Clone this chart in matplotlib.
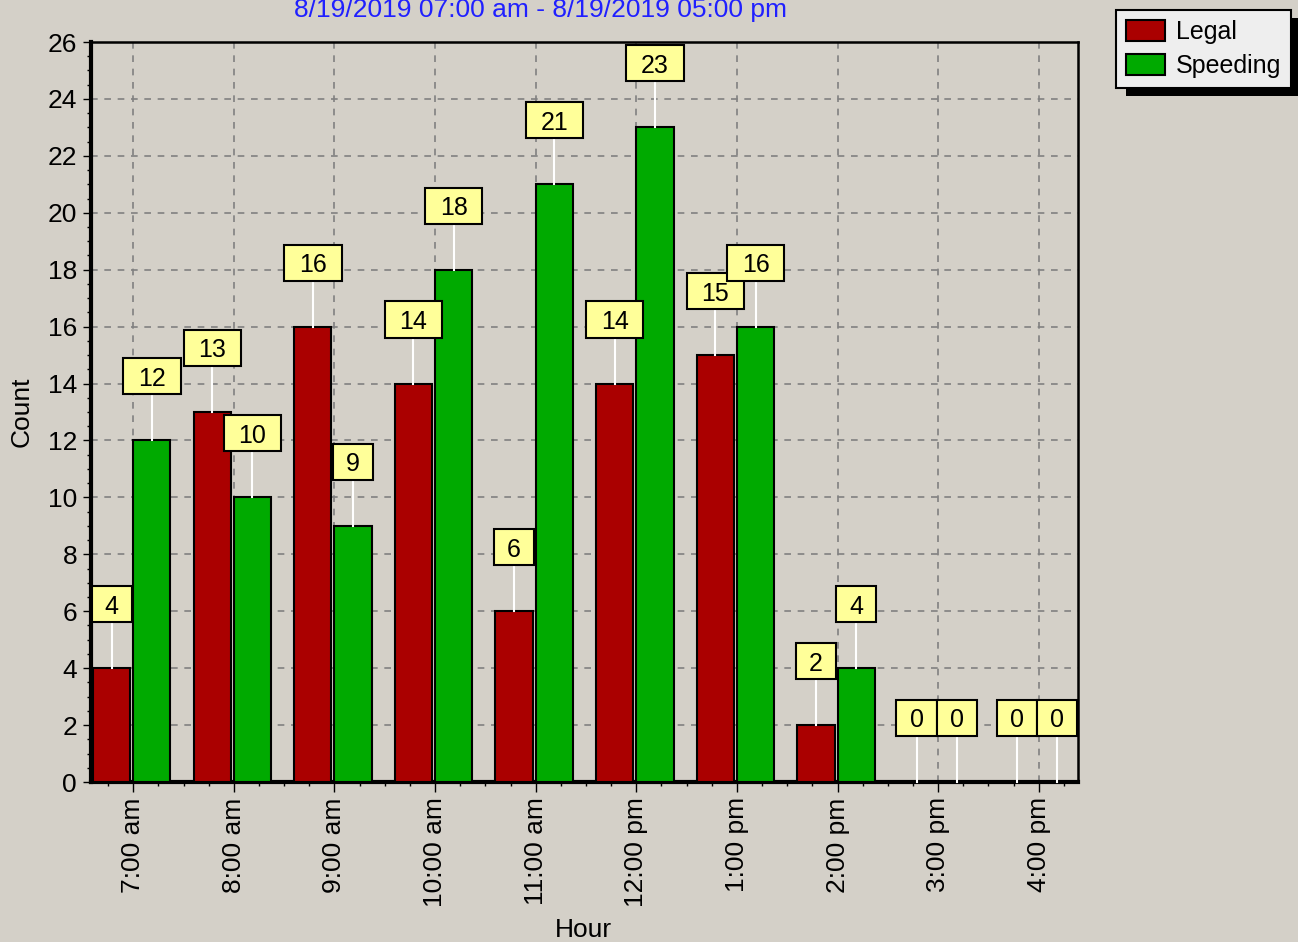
import matplotlib
matplotlib.use("Agg")
import matplotlib.pyplot as plt
from matplotlib.patches import Rectangle, Patch
import numpy as np

hours = ["7:00 am", "8:00 am", "9:00 am", "10:00 am", "11:00 am",
         "12:00 pm", "1:00 pm", "2:00 pm", "3:00 pm", "4:00 pm"]
legal = [4, 13, 16, 14, 6, 14, 15, 2, 0, 0]
speeding = [12, 10, 9, 18, 21, 23, 16, 4, 0, 0]
title = "8/19/2019 07:00 am - 8/19/2019 05:00 pm"

bg = "#d4d0c8"
red = "#aa0000"
green = "#00aa00"
plt.rcParams["font.family"] = ["Liberation Sans", "DejaVu Sans"]

fig = plt.figure(figsize=(12.98, 9.42), dpi=100, facecolor=bg)
ax = fig.add_axes([91 / 1298, 1 - 782 / 942, 987 / 1298, 740 / 942])
ax.set_facecolor(bg)

x = np.arange(len(hours))
w = 0.37
ax.bar(x - 0.40, legal, w, align="edge", color=red, edgecolor="black", linewidth=1.5, zorder=3)
ax.bar(x, speeding, w, align="edge", color=green, edgecolor="black", linewidth=1.5, zorder=3)

# value labels in yellow boxes with white leader lines
off = 2.25
box_h = 1.27
for i in range(len(hours)):
    for xc, v in ((x[i] - 0.40 + w / 2, legal[i]), (x[i] + w / 2, speeding[i])):
        bw = 0.40 if v < 10 else 0.57
        ax.plot([xc, xc], [v, v + off - box_h / 2], color="white", lw=1.5, zorder=4, clip_on=False)
        ax.add_patch(Rectangle((xc - bw / 2, v + off - box_h / 2), bw, box_h, facecolor="#ffff99",
                               edgecolor="black", lw=1.5, zorder=5, clip_on=False))
        ax.text(xc, v + off, str(v), ha="center", va="center_baseline", fontsize=18, zorder=6)

ax.set_xlim(-0.42, 9.39)
ax.set_ylim(0, 26)
ax.set_xticks(x)
ax.set_xticklabels(hours, rotation=90, fontsize=19)
ax.set_yticks(np.arange(0, 27, 2))
ax.set_yticks(np.arange(0, 26.1, 0.5), minor=True)
ax.set_xticks(np.arange(-0.25, 9.4, 0.25), minor=True)
ax.tick_params(axis="y", labelsize=19, length=6, width=1, pad=4)
ax.tick_params(axis="x", length=7, width=1, pad=4)
ax.tick_params(which="minor", length=3, width=1)
ax.grid(True, color="#808080", linestyle=(0, (4, 4)), linewidth=1.2, zorder=1)
ax.set_axisbelow(True)

for s in ("left", "bottom"):
    ax.spines[s].set_linewidth(3)
for s in ("top", "right"):
    ax.spines[s].set_linewidth(1.8)

fig.text(541 / 1298, 1 - 10 / 942, title, color="#2020ff", fontsize=19, ha="center", va="center")
fig.text(22 / 1298, 1 - 412 / 942, "Count", rotation=90, fontsize=19, ha="center", va="center")
fig.text(583 / 1298, 1 - 930 / 942, "Hour", fontsize=19, ha="center", va="center")

handles = [Patch(facecolor=red, edgecolor="black", lw=1.5),
           Patch(facecolor=green, edgecolor="black", lw=1.5)]
leg = fig.legend(handles, ["Legal", "Speeding"], loc="upper left",
                 bbox_to_anchor=(1116 / 1298, 1 - 10 / 942), borderaxespad=0,
                 fontsize=18, frameon=True, fancybox=False, handlelength=1.55,
                 handleheight=0.9, handletextpad=0.45, labelspacing=0.4,
                 borderpad=0.4)
leg.get_frame().set_facecolor("#eeeeee")
leg.get_frame().set_edgecolor("black")
leg.get_frame().set_linewidth(1.5)
leg.get_frame().set_alpha(1)

fig.canvas.draw()
bb = leg.get_window_extent().transformed(fig.transFigure.inverted())
fig.patches.append(Rectangle((bb.x0 + 10 / 1298, bb.y0 - 8 / 942), bb.width, bb.height,
                             transform=fig.transFigure, facecolor="black", zorder=leg.get_zorder() - 1))

fig.savefig("out.png", dpi=100, facecolor=bg)
